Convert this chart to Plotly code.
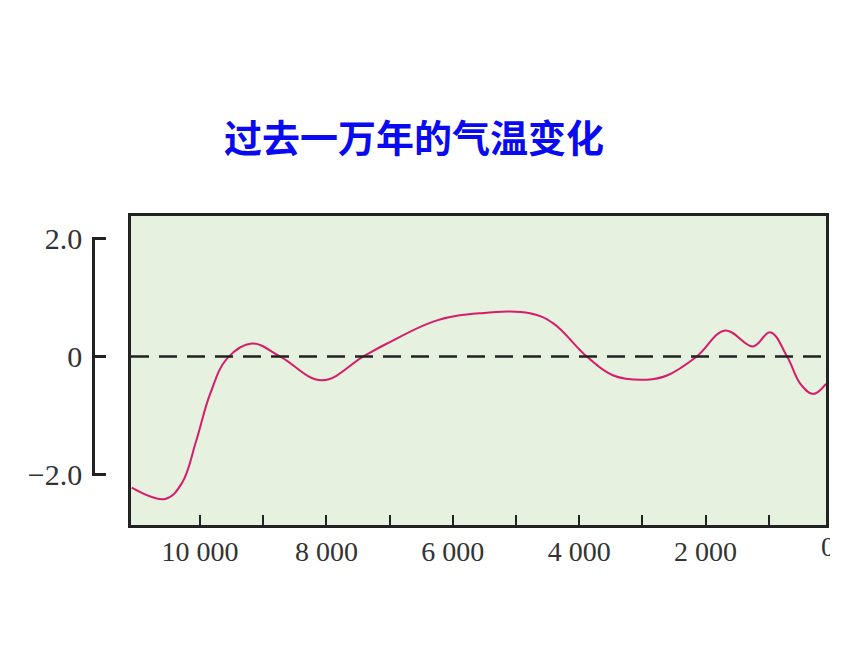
import plotly.graph_objects as go

# ---- data (years before present, temperature anomaly) ----
years = [11080, 10550, 10290, 10060, 9840, 9570, 9180, 8730, 8070,
         7420, 7040, 6250, 5570, 4780, 4410, 3880, 3460, 2930, 2610,
         2140, 1690, 1250, 980, 710, 500, 300, 95]
temps = [-2.21, -2.40, -2.14, -1.42, -0.63, -0.03, 0.22, 0.00, -0.40,
         0.00, 0.22, 0.61, 0.73, 0.73, 0.56, 0.00, -0.32, -0.39, -0.32,
         0.00, 0.44, 0.17, 0.41, 0.00, -0.46, -0.63, -0.46]

x_tickvals = [10000, 9000, 8000, 7000, 6000, 5000, 4000, 3000, 2000, 1000]
x_ticktext = ["10 000", "", "8 000", "", "6 000", "", "4 000", "", "2 000", ""]
y_tickvals = [-2, 0, 2]
y_ticktext = ["\u22122.0", "0", "2.0"]
title_text = "过去一万年的气温变化"

# ---- geometry (page has an 8px body margin) ----
OFF = 8
W, H = 860, 645
ml, mr, mt, mb = 72, 30, 100, 80
pw, ph = W - ml - mr, H - mt - mb
px = lambda p: (p - OFF - ml) / pw
py = lambda p: (H - mb - (p - OFF)) / ph

x_left, x_right = 131, 826
y_top, y_bot = 216, 525
xr = [11092, 95]
yr = [-2.84, 2.37]

serif = "Liberation Serif, Times New Roman, serif"
ink = "#222222"
label_col = "#333333"

fig = go.Figure()
fig.add_trace(go.Scatter(
    x=years, y=temps, mode="lines",
    line=dict(color="#D81B6A", width=2, shape="spline", smoothing=1.1),
    hoverinfo="skip", showlegend=False))

# dummy trace for the detached left axis
fig.add_trace(go.Scatter(x=[], y=[], xaxis="x", yaxis="y2", showlegend=False))

# partially clipped "0" label at the right edge (image is cropped there)
fig.add_trace(go.Scatter(
    x=[0], y=[0.5], mode="text", text=["0"], textposition="middle center",
    xaxis="x3", yaxis="y3",
    textfont=dict(family=serif, size=28, color=label_col),
    cliponaxis=True, showlegend=False, hoverinfo="skip"))

fig.update_layout(
    width=W, height=H,
    margin=dict(l=ml, r=mr, t=mt, b=mb),
    paper_bgcolor="white",
    plot_bgcolor="rgba(0,0,0,0)",
    title=dict(text="<b>" + title_text + "</b>", x=(414 - OFF) / W, xref="container",
               xanchor="center", y=1 - (139 - OFF) / H, yanchor="middle",
               font=dict(family="Noto Sans CJK SC", size=38, color="#0A0AF0")),
    xaxis=dict(
        domain=[px(x_left), px(x_right)], range=xr,
        tickvals=x_tickvals, ticktext=x_ticktext,
        ticks="inside", ticklen=10, tickwidth=2, tickcolor=ink,
        showline=True, linecolor=ink, linewidth=2.5, mirror=True,
        showgrid=False, zeroline=False,
        tickfont=dict(family=serif, size=28, color=label_col),
        anchor="y"),
    yaxis=dict(
        domain=[py(y_bot), py(y_top)], range=yr,
        showticklabels=False, ticks="",
        showline=True, linecolor=ink, linewidth=2.5, mirror=True,
        showgrid=False, zeroline=False, anchor="x"),
    yaxis2=dict(
        domain=[py(476), py(237)], range=[-2.02, 2.02],
        anchor="free", position=px(93), side="left",
        tickvals=y_tickvals, ticktext=y_ticktext,
        ticks="inside", ticklen=11, tickwidth=2.5, tickcolor=ink,
        ticklabelstandoff=4,
        showline=True, linecolor=ink, linewidth=2.5,
        showgrid=False, zeroline=False,
        tickfont=dict(family=serif, size=30, color=label_col)),
    xaxis3=dict(domain=[px(x_left), px(830)], range=[11028, -32],
                visible=False, anchor="y3"),
    yaxis3=dict(domain=[0, py(y_bot)], range=[0, 1], visible=False, anchor="x3"),
    shapes=[
        dict(type="rect", xref="x domain", yref="y domain", x0=0, x1=1, y0=0, y1=1,
             fillcolor="#E6F1E0", line=dict(width=0), layer="below"),
        dict(type="line", xref="x", yref="y", x0=xr[0], x1=xr[1], y0=0, y1=0,
             line=dict(color=ink, width=2.5, dash="18px,10px"), layer="above"),
    ],
)

fig.write_html("out.html")
